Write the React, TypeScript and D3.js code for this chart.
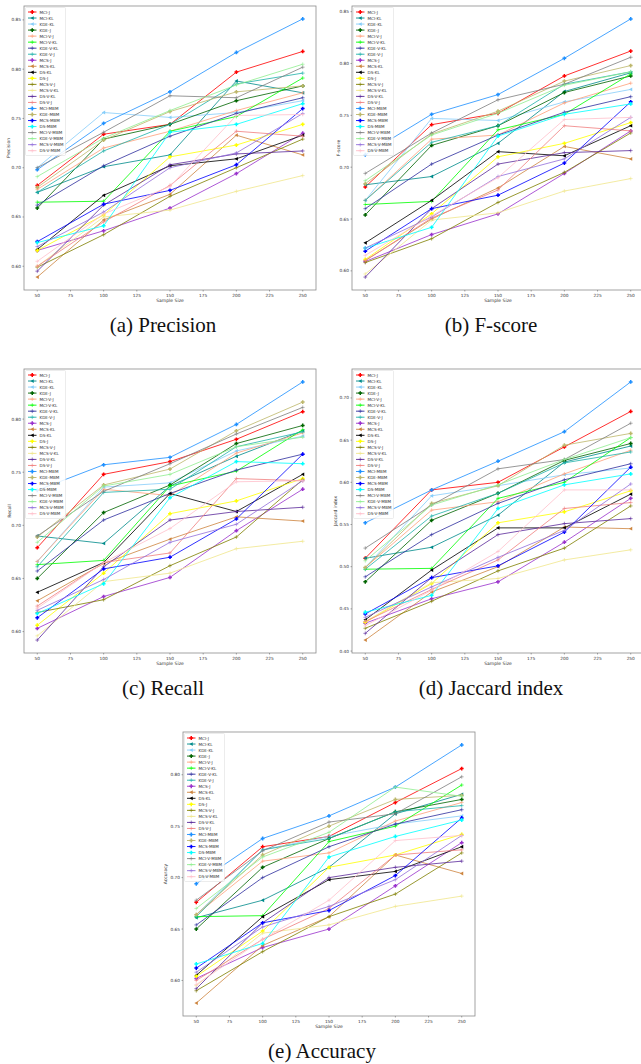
import { useEffect, useRef } from "react";
import * as d3 from "d3";

const SAMPLE_SIZES = [50, 100, 150, 200, 250];
const X_TICKS = [50, 75, 100, 125, 150, 175, 200, 225, 250];

const METHODS = [
  "MCI-J", "MCI-KL", "KDE-KL", "KDE-J", "MCI-V-J", "MCI-V-KL", "KDE-V-KL", "KDE-V-J",
  "MCS-J", "MCS-KL", "DS-KL", "DS-J", "MCS-V-J", "MCS-V-KL", "DS-V-KL", "DS-V-J",
  "MCI-MBM", "KDE-MBM", "MCS-MBM", "DS-MBM", "MCI-V-MBM", "KDE-V-MBM", "MCS-V-MBM", "DS-V-MBM",
];

const COLORS = [
  "#ff0000", "#008b8b", "#87cefa", "#006400", "#ffa07a", "#00ff00", "#2f2f9f", "#20b2aa",
  "#9932cc", "#cd853f", "#000000", "#ffff00", "#808000", "#f0e68c", "#5b2a9b", "#f08080",
  "#1e90ff", "#bdb76b", "#0000ff", "#00ffff", "#808080", "#90ee90", "#9370db", "#ffc0cb",
];

const MARKERS = [
  "P", "<", "<", "P", "+", "+", "+", "+",
  "P", "<", "<", "P", "+", "+", "+", "+",
  "P", "P", "P", "P", "+", "+", "+", "+",
];

// one row per method, values at SAMPLE_SIZES
const PRECISION = [
  [0.682, 0.734, 0.744, 0.797, 0.818],
  [0.675, 0.701, 0.713, 0.788, 0.776],
  [0.700, 0.756, 0.751, 0.756, 0.768],
  [0.659, 0.729, 0.744, 0.768, 0.783],
  [0.678, 0.720, 0.737, 0.758, 0.776],
  [0.665, 0.666, 0.737, 0.752, 0.791],
  [0.662, 0.702, 0.732, 0.755, 0.771],
  [0.675, 0.717, 0.744, 0.785, 0.796],
  [0.616, 0.636, 0.659, 0.694, 0.735],
  [0.589, 0.647, 0.673, 0.733, 0.713],
  [0.617, 0.672, 0.702, 0.709, 0.733],
  [0.616, 0.652, 0.711, 0.723, 0.744],
  [0.599, 0.632, 0.671, 0.700, 0.729],
  [0.600, 0.650, 0.657, 0.676, 0.692],
  [0.595, 0.662, 0.703, 0.714, 0.717],
  [0.600, 0.645, 0.682, 0.737, 0.732],
  [0.698, 0.745, 0.777, 0.817, 0.851],
  [0.680, 0.728, 0.757, 0.777, 0.783],
  [0.625, 0.663, 0.677, 0.703, 0.760],
  [0.624, 0.641, 0.736, 0.744, 0.765],
  [0.700, 0.736, 0.773, 0.771, 0.802],
  [0.691, 0.730, 0.758, 0.784, 0.805],
  [0.620, 0.655, 0.700, 0.715, 0.755],
  [0.605, 0.653, 0.681, 0.753, 0.754],
];

const FSCORE = [
  [0.681, 0.741, 0.752, 0.788, 0.812],
  [0.683, 0.691, 0.723, 0.773, 0.791],
  [0.668, 0.747, 0.745, 0.763, 0.775],
  [0.654, 0.721, 0.740, 0.772, 0.788],
  [0.668, 0.727, 0.731, 0.762, 0.781],
  [0.664, 0.667, 0.736, 0.751, 0.790],
  [0.660, 0.703, 0.731, 0.753, 0.768],
  [0.668, 0.724, 0.740, 0.780, 0.792],
  [0.609, 0.635, 0.655, 0.694, 0.735],
  [0.610, 0.650, 0.680, 0.720, 0.708],
  [0.627, 0.668, 0.715, 0.711, 0.740],
  [0.611, 0.655, 0.710, 0.723, 0.743],
  [0.608, 0.631, 0.666, 0.695, 0.733],
  [0.597, 0.649, 0.656, 0.677, 0.689],
  [0.594, 0.660, 0.703, 0.714, 0.716],
  [0.610, 0.651, 0.678, 0.740, 0.735],
  [0.712, 0.751, 0.770, 0.805, 0.843],
  [0.684, 0.732, 0.754, 0.783, 0.798],
  [0.619, 0.660, 0.673, 0.704, 0.763],
  [0.622, 0.642, 0.730, 0.751, 0.761],
  [0.694, 0.733, 0.765, 0.780, 0.806],
  [0.687, 0.731, 0.752, 0.779, 0.792],
  [0.622, 0.652, 0.691, 0.708, 0.748],
  [0.615, 0.653, 0.690, 0.746, 0.748],
];

const RECALL = [
  [0.679, 0.748, 0.760, 0.781, 0.807],
  [0.690, 0.683, 0.737, 0.765, 0.789],
  [0.666, 0.736, 0.740, 0.770, 0.784],
  [0.650, 0.712, 0.738, 0.777, 0.794],
  [0.666, 0.734, 0.728, 0.768, 0.787],
  [0.663, 0.667, 0.737, 0.751, 0.790],
  [0.657, 0.705, 0.730, 0.752, 0.767],
  [0.661, 0.731, 0.734, 0.774, 0.788],
  [0.603, 0.633, 0.651, 0.695, 0.734],
  [0.629, 0.664, 0.687, 0.708, 0.704],
  [0.637, 0.665, 0.730, 0.713, 0.748],
  [0.606, 0.655, 0.711, 0.723, 0.744],
  [0.618, 0.630, 0.662, 0.689, 0.743],
  [0.596, 0.647, 0.655, 0.678, 0.685],
  [0.592, 0.661, 0.705, 0.713, 0.717],
  [0.624, 0.665, 0.674, 0.744, 0.742],
  [0.733, 0.757, 0.764, 0.795, 0.835],
  [0.689, 0.738, 0.753, 0.789, 0.816],
  [0.613, 0.659, 0.670, 0.706, 0.767],
  [0.617, 0.645, 0.726, 0.760, 0.758],
  [0.690, 0.732, 0.758, 0.786, 0.811],
  [0.684, 0.737, 0.748, 0.774, 0.783],
  [0.620, 0.649, 0.684, 0.701, 0.742],
  [0.622, 0.665, 0.697, 0.741, 0.742],
];

const JACCARD = [
  [0.510, 0.591, 0.600, 0.642, 0.684],
  [0.510, 0.523, 0.561, 0.624, 0.643],
  [0.499, 0.584, 0.596, 0.609, 0.617],
  [0.482, 0.555, 0.587, 0.626, 0.646],
  [0.499, 0.567, 0.577, 0.610, 0.638],
  [0.497, 0.498, 0.581, 0.600, 0.653],
  [0.488, 0.538, 0.575, 0.603, 0.622],
  [0.497, 0.560, 0.587, 0.623, 0.636],
  [0.433, 0.462, 0.482, 0.529, 0.581],
  [0.413, 0.470, 0.500, 0.547, 0.545],
  [0.437, 0.496, 0.546, 0.546, 0.586],
  [0.434, 0.480, 0.552, 0.565, 0.590],
  [0.427, 0.459, 0.495, 0.522, 0.572],
  [0.435, 0.481, 0.486, 0.508, 0.520],
  [0.421, 0.487, 0.538, 0.551, 0.557],
  [0.435, 0.473, 0.508, 0.569, 0.576],
  [0.552, 0.591, 0.625, 0.660, 0.719],
  [0.499, 0.575, 0.596, 0.644, 0.658],
  [0.444, 0.487, 0.501, 0.541, 0.618],
  [0.446, 0.466, 0.569, 0.597, 0.610],
  [0.522, 0.573, 0.616, 0.627, 0.670],
  [0.507, 0.573, 0.597, 0.627, 0.653],
  [0.440, 0.476, 0.511, 0.543, 0.598],
  [0.430, 0.472, 0.518, 0.591, 0.591],
];

const ACCURACY = [
  [0.676, 0.730, 0.740, 0.773, 0.806],
  [0.661, 0.678, 0.710, 0.762, 0.781],
  [0.664, 0.727, 0.740, 0.752, 0.760],
  [0.650, 0.710, 0.738, 0.764, 0.776],
  [0.664, 0.716, 0.724, 0.755, 0.773],
  [0.662, 0.663, 0.735, 0.750, 0.790],
  [0.654, 0.700, 0.730, 0.752, 0.766],
  [0.662, 0.727, 0.738, 0.764, 0.770],
  [0.602, 0.632, 0.650, 0.692, 0.734],
  [0.578, 0.634, 0.662, 0.722, 0.704],
  [0.605, 0.662, 0.698, 0.706, 0.730],
  [0.604, 0.648, 0.710, 0.722, 0.742],
  [0.590, 0.628, 0.662, 0.684, 0.724],
  [0.595, 0.646, 0.654, 0.672, 0.682],
  [0.592, 0.656, 0.700, 0.710, 0.716],
  [0.600, 0.640, 0.670, 0.722, 0.727],
  [0.694, 0.738, 0.760, 0.788, 0.829],
  [0.664, 0.722, 0.750, 0.776, 0.780],
  [0.612, 0.656, 0.668, 0.702, 0.758],
  [0.616, 0.636, 0.720, 0.740, 0.756],
  [0.678, 0.726, 0.754, 0.762, 0.798],
  [0.670, 0.720, 0.744, 0.788, 0.779],
  [0.608, 0.652, 0.672, 0.698, 0.741],
  [0.596, 0.640, 0.678, 0.736, 0.741],
];

const PANELS = [
  { data: PRECISION, ylabel: "Precision", caption: "(a) Precision", x: 24, y: 6, ylx: 10 },
  { data: FSCORE, ylabel: "F-score", caption: "(b) F-score", x: 352, y: 6, ylx: 340 },
  { data: RECALL, ylabel: "Recall", caption: "(c) Recall", x: 24, y: 369, ylx: 11 },
  { data: JACCARD, ylabel: "Jaccard index", caption: "(d) Jaccard index", x: 352, y: 369, ylx: 337 },
  { data: ACCURACY, ylabel: "Accuracy", caption: "(e) Accuracy", x: 183, y: 732, ylx: 167 },
];

const W = 292;
const H = 284;
const SANS = "DejaVu Sans, sans-serif";

function drawMarker(g, type, color, cx, cy) {
  const s = 1.9;
  if (type === "P") {
    const t = 0.75;
    g.append("path")
      .attr("transform", `translate(${cx},${cy})`)
      .attr("d", `M${-t},${-s}H${t}V${-t}H${s}V${t}H${t}V${s}H${-t}V${t}H${-s}V${-t}H${-t}Z`)
      .attr("fill", color);
  } else if (type === "<") {
    g.append("path")
      .attr("transform", `translate(${cx},${cy})`)
      .attr("d", `M${-s},0L${s * 0.8},${-s}L${s * 0.8},${s}Z`)
      .attr("fill", color);
  } else {
    g.append("path")
      .attr("transform", `translate(${cx},${cy})`)
      .attr("d", `M${-s},0H${s}M0,${-s}V${s}`)
      .attr("stroke", color)
      .attr("stroke-width", 0.6)
      .attr("fill", "none");
  }
}

function drawPanel(svg, p) {
  const all = p.data.flat();
  const lo = d3.min(all);
  const hi = d3.max(all);
  const pad = (hi - lo) * 0.05;

  const x = d3.scaleLinear().domain([40, 260]).range([p.x, p.x + W]);
  const y = d3.scaleLinear().domain([lo - pad, hi + pad]).range([p.y + H, p.y]);

  const g = svg.append("g");

  // lines + markers
  const line = d3
    .line()
    .x((d, i) => x(SAMPLE_SIZES[i]))
    .y((d) => y(d));

  p.data.forEach((row, k) => {
    g.append("path")
      .datum(row)
      .attr("d", line)
      .attr("fill", "none")
      .attr("stroke", COLORS[k])
      .attr("stroke-width", 0.9)
      .attr("stroke-opacity", 0.9);
    row.forEach((v, i) => drawMarker(g, MARKERS[k], COLORS[k], x(SAMPLE_SIZES[i]), y(v)));
  });

  // frame
  g.append("rect")
    .attr("x", p.x)
    .attr("y", p.y)
    .attr("width", W)
    .attr("height", H)
    .attr("fill", "none")
    .attr("stroke", "#8c8c8c")
    .attr("stroke-width", 0.8);

  // x ticks
  X_TICKS.forEach((t) => {
    g.append("line")
      .attr("x1", x(t)).attr("x2", x(t))
      .attr("y1", p.y + H).attr("y2", p.y + H + 1.5)
      .attr("stroke", "#555").attr("stroke-width", 0.5);
    g.append("text")
      .attr("x", x(t))
      .attr("y", p.y + H + 6.5)
      .attr("text-anchor", "middle")
      .attr("font-family", SANS)
      .attr("font-size", 4.3)
      .attr("fill", "#333")
      .text(t);
  });

  // y ticks
  const yTicks = d3.range(Math.ceil((lo - pad) / 0.05 - 1e-6), Math.floor((hi + pad) / 0.05 + 1e-6) + 1).map((k) => k * 0.05);
  yTicks.forEach((t) => {
    g.append("line")
      .attr("x1", p.x - 1.5).attr("x2", p.x)
      .attr("y1", y(t)).attr("y2", y(t))
      .attr("stroke", "#555").attr("stroke-width", 0.5);
    g.append("text")
      .attr("x", p.x - 3)
      .attr("y", y(t) + 1.5)
      .attr("text-anchor", "end")
      .attr("font-family", SANS)
      .attr("font-size", 4.3)
      .attr("fill", "#333")
      .text(d3.format(".2f")(t));
  });

  // axis labels
  g.append("text")
    .attr("x", p.x + W / 2)
    .attr("y", p.y + H + 11.5)
    .attr("text-anchor", "middle")
    .attr("font-family", SANS)
    .attr("font-size", 4.5)
    .attr("fill", "#333")
    .text("Sample Size");
  g.append("text")
    .attr("transform", `translate(${p.ylx},${p.y + H / 2}) rotate(-90)`)
    .attr("text-anchor", "middle")
    .attr("font-family", SANS)
    .attr("font-size", 4.5)
    .attr("fill", "#333")
    .text(p.ylabel);

  // legend
  const lg = g.append("g");
  const rowH = 6.03;
  lg.append("rect")
    .attr("x", p.x + 1.5)
    .attr("y", p.y + 1.5)
    .attr("width", 40)
    .attr("height", 148)
    .attr("rx", 1)
    .attr("fill", "#fff")
    .attr("fill-opacity", 0.85)
    .attr("stroke", "#d9d9d9")
    .attr("stroke-width", 0.5);
  METHODS.forEach((m, k) => {
    const ry = p.y + 6 + k * rowH;
    lg.append("line")
      .attr("x1", p.x + 4).attr("x2", p.x + 12.5)
      .attr("y1", ry).attr("y2", ry)
      .attr("stroke", COLORS[k])
      .attr("stroke-width", 0.9);
    drawMarker(lg, MARKERS[k], COLORS[k], p.x + 8.25, ry);
    lg.append("text")
      .attr("x", p.x + 15.5)
      .attr("y", ry + 1.5)
      .attr("font-family", SANS)
      .attr("font-size", 4.1)
      .attr("fill", "#333")
      .text(m);
  });

  // caption
  g.append("text")
    .attr("x", p.x + 139)
    .attr("y", p.y + H + 42)
    .attr("text-anchor", "middle")
    .attr("font-family", "Liberation Serif, Times New Roman, serif")
    .attr("font-size", 21)
    .attr("fill", "#111")
    .text(p.caption);
}

export default function App() {
  const ref = useRef(null);

  useEffect(() => {
    const el = ref.current;
    if (!el) return;
    const svg = d3.select(el);
    svg.selectAll("*").remove();
    svg.append("rect").attr("width", 641).attr("height", 1064).attr("fill", "#fff");
    PANELS.forEach((p) => drawPanel(svg, p));
  }, []);

  return (
    <svg
      ref={ref}
      width={641}
      height={1064}
      style={{ position: "absolute", left: 0, top: 0, display: "block" }}
    />
  );
}
